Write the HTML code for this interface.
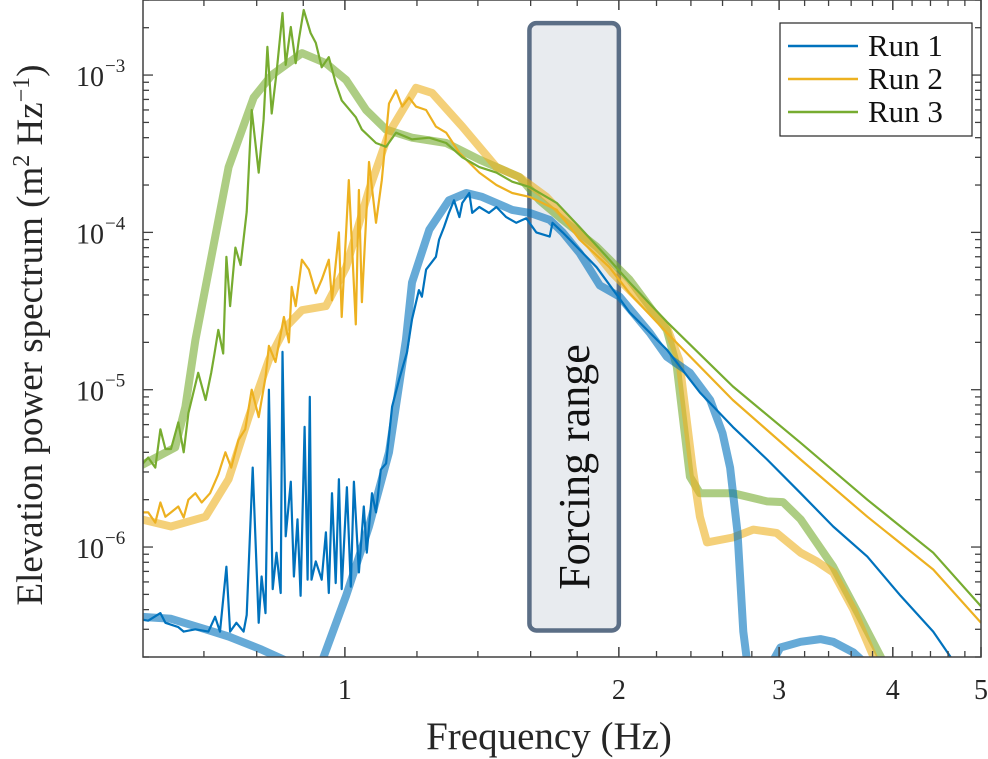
<!DOCTYPE html>
<html><head><meta charset="utf-8"><style>
html,body{margin:0;padding:0;background:#fff;}
svg{display:block;font-family:"Liberation Serif",serif;}
</style></head><body>
<svg id="chart" width="988" height="759" viewBox="0 0 988 759" xmlns="http://www.w3.org/2000/svg">
<defs><clipPath id="clip"><rect x="143" y="0" width="838" height="657"/></clipPath></defs>
<g id="plot" clip-path="url(#clip)"></g>
<g id="axes"></g>
<text x="549" y="749" text-anchor="middle" font-size="39" fill="#262626">Frequency (Hz)</text>
<text transform="translate(42,335) rotate(-90)" text-anchor="middle" font-size="37" fill="#262626">Elevation power spectrum (m<tspan baseline-shift="super" font-size="24">2</tspan> Hz<tspan baseline-shift="super" font-size="24">−1</tspan>)</text>
<g>
<rect x="780" y="23" width="192" height="113" fill="#fff" stroke="#262626" stroke-width="1.2"/>
<g><line x1="788" y1="46" x2="858" y2="46" stroke="#0072BD" stroke-width="2.5"/><text x="868" y="56" font-size="31" fill="#111">Run 1</text></g>
<g><line x1="788" y1="79" x2="858" y2="79" stroke="#EDB120" stroke-width="2.5"/><text x="868" y="89" font-size="31" fill="#111">Run 2</text></g>
<g><line x1="788" y1="112" x2="858" y2="112" stroke="#77AC30" stroke-width="2.5"/><text x="868" y="122" font-size="31" fill="#111">Run 3</text></g>
</g>
</svg>
<script>
// ---- data ----
const run3F = [0.597,0.608,0.619,0.627,0.635,0.644,0.656,0.665,0.673,0.690,0.703,0.713,0.719,0.726,0.735,0.741,0.748,0.758,0.768,0.780,0.790,0.804,0.814,0.822,0.831,0.841,0.854,0.861,0.872,0.883,0.890,0.901,0.917,0.929,0.943,0.960,0.977,0.992,1.028,1.044,1.082,1.110,1.138,1.185,1.238,1.292,1.346,1.405,1.467,1.527,1.596,1.709,1.811,1.953,2.055,2.258,2.668,3.168,3.75,4.43,5.0];
const run3P = [3.3e-6,3.7e-6,3.2e-6,5.6e-6,4.2e-6,4.2e-6,6.2e-6,4.0e-6,7.1e-6,1.28e-5,8.6e-6,1.28e-5,1.7e-5,2.4e-5,1.7e-5,7.0e-5,3.4e-5,8.0e-5,6.2e-5,1.35e-4,6.0e-4,2.4e-4,5.2e-4,1.51e-3,5.7e-4,1.03e-3,2.48e-3,1.16e-3,2.02e-3,1.19e-3,1.67e-3,2.59e-3,1.85e-3,1.6e-3,1.12e-3,1.3e-3,8.9e-4,6.9e-4,5.4e-4,4.5e-4,3.7e-4,3.5e-4,4.3e-4,3.9e-4,4.0e-4,3.7e-4,3.0e-4,2.6e-4,2.4e-4,2.1e-4,1.94e-4,1.54e-4,1.08e-4,6.7e-5,4.8e-5,2.7e-5,1.05e-5,4.6e-6,2.0e-6,9.2e-7,4.2e-7];
const run3SmoothF = [0.597,0.651,0.668,0.685,0.703,0.745,0.794,0.831,0.897,0.953,1.003,1.055,1.110,1.185,1.292,1.405,1.555,1.636,1.735,1.891,2.055,2.258,2.316,2.394,2.455,2.668,2.91,3.03,3.168,3.44,3.68,3.88,4.0];
const run3SmoothP = [3.3e-6,4.3e-6,7.8e-6,2.07e-5,4.5e-5,2.6e-4,7.2e-4,1.0e-3,1.38e-3,1.19e-3,9.3e-4,6.0e-4,4.5e-4,4.0e-4,3.7e-4,2.9e-4,2.25e-4,1.6e-4,1.2e-4,8.1e-5,5.0e-5,2.4e-5,1.4e-5,2.8e-6,2.2e-6,2.2e-6,1.95e-6,1.93e-6,1.5e-6,7.5e-7,3.6e-7,2.0e-7,1.2e-7];
const run2F = [0.597,0.608,0.619,0.627,0.635,0.644,0.656,0.665,0.673,0.685,0.696,0.711,0.726,0.739,0.750,0.764,0.777,0.790,0.804,0.818,0.825,0.839,0.857,0.868,0.874,0.883,0.897,0.913,0.929,0.943,0.960,0.968,0.985,0.992,1.010,1.028,1.036,1.044,1.063,1.082,1.098,1.118,1.138,1.156,1.176,1.197,1.228,1.259,1.292,1.336,1.405,1.467,1.527,1.596,1.709,1.811,1.953,2.055,2.258,2.668,3.168,3.75,4.43,5.0];
const run2P = [1.66e-6,1.66e-6,1.43e-6,1.92e-6,1.56e-6,1.66e-6,1.81e-6,1.54e-6,2.0e-6,2.2e-6,1.92e-6,2.2e-6,2.9e-6,4.0e-6,3.2e-6,4.8e-6,5.6e-6,1.0e-5,6.7e-6,1.2e-5,1.9e-5,1.5e-5,2.9e-5,2.0e-5,4.5e-5,3.4e-5,6.7e-5,5.8e-5,4.1e-5,5.0e-5,6.7e-5,3.7e-5,1.0e-4,2.9e-5,2.15e-4,2.6e-5,1.86e-4,3.6e-5,2.8e-4,1.15e-4,2.15e-4,6.6e-4,8.0e-4,6.3e-4,7.2e-4,6.3e-4,6.0e-4,4.7e-4,4.3e-4,3.2e-4,2.4e-4,2.0e-4,1.78e-4,1.68e-4,1.39e-4,9.0e-5,6.0e-5,4.1e-5,2.3e-5,8.6e-6,3.6e-6,1.56e-6,7.2e-7,3.3e-7];
const run2SmoothF = [0.597,0.644,0.703,0.745,0.784,0.825,0.861,0.897,0.953,1.003,1.063,1.118,1.197,1.247,1.346,1.467,1.555,1.665,1.811,1.968,2.258,2.33,2.41,2.455,2.50,2.668,2.81,2.98,3.168,3.30,3.44,3.62,3.81,3.95];
const run2SmoothP = [1.5e-6,1.35e-6,1.56e-6,2.7e-6,6.7e-6,1.55e-5,2.5e-5,3.2e-5,3.4e-5,6.0e-5,1.86e-4,4.3e-4,8.3e-4,7.7e-4,4.7e-4,2.6e-4,2.25e-4,1.68e-4,1.0e-4,5.5e-5,2.5e-5,1.55e-5,3.2e-6,1.56e-6,1.07e-6,1.15e-6,1.29e-6,1.23e-6,9.2e-7,8.1e-7,6.9e-7,4.0e-7,2.0e-7,1.2e-7];
const run1F = [0.597,0.608,0.627,0.635,0.656,0.665,0.685,0.708,0.720,0.729,0.741,0.748,0.760,0.774,0.780,0.792,0.804,0.810,0.818,0.825,0.833,0.841,0.850,0.854,0.861,0.872,0.879,0.887,0.894,0.903,0.910,0.915,0.919,0.929,0.943,0.953,0.960,0.968,0.977,0.985,0.992,1.005,1.015,1.023,1.036,1.049,1.057,1.071,1.082,1.095,1.110,1.127,1.147,1.170,1.185,1.206,1.215,1.228,1.259,1.269,1.285,1.301,1.318,1.336,1.346,1.370,1.380,1.405,1.440,1.467,1.504,1.543,1.582,1.623,1.679,1.691,1.735,1.891,2.055,2.258,2.455,2.668,2.91,3.168,3.44,3.75,4.08,4.43,4.63,4.8];
const run1P = [3.47e-7,3.4e-7,3.8e-7,3.3e-7,3.1e-7,2.9e-7,3.0e-7,2.9e-7,3.6e-7,2.9e-7,7.5e-7,2.9e-7,3.3e-7,2.9e-7,3.7e-7,3.2e-6,3.3e-7,6.5e-7,3.8e-7,1.0e-5,5.4e-7,9.2e-7,5.1e-7,1.74e-5,1.17e-6,2.6e-6,6.5e-7,1.5e-6,4.9e-7,5.8e-6,6.2e-7,9.0e-6,6.2e-7,8.1e-7,6.2e-7,1.24e-6,5.1e-7,2.2e-6,5.9e-7,2.7e-6,5.4e-7,2.4e-6,5.6e-7,2.6e-6,6.9e-7,1.81e-6,9.2e-7,2.2e-6,1.66e-6,3.1e-6,3.4e-6,7.8e-6,1.16e-5,1.72e-5,2.8e-5,4.3e-5,3.9e-5,5.8e-5,7.0e-5,9.0e-5,1.08e-4,1.33e-4,1.6e-4,1.25e-4,1.54e-4,1.78e-4,1.33e-4,1.45e-4,1.33e-4,1.45e-4,1.25e-4,1.15e-4,1.23e-4,1.0e-4,9.4e-5,1.15e-4,1.0e-4,6.0e-5,3.1e-5,1.8e-5,9.6e-6,5.8e-6,3.6e-6,2.2e-6,1.35e-6,8.7e-7,4.9e-7,2.9e-7,2.0e-7,1.5e-7];
const run1SmoothF = [0.597,0.644,0.703,0.745,0.810,0.861,0.90,0.941,1.003,1.063,1.118,1.167,1.185,1.238,1.301,1.360,1.415,1.527,1.596,1.679,1.735,1.811,1.906,2.004,2.163,2.258,2.394,2.52,2.60,2.65,2.70,2.74,2.78,2.89,3.01,3.168,3.33,3.44,3.62,3.78];
const run1SmoothP = [3.6e-7,3.5e-7,3.0e-7,2.7e-7,2.23e-7,1.9e-7,1.5e-7,1.8e-7,4.9e-7,1.35e-6,4.0e-6,2.07e-5,4.8e-5,1.04e-4,1.6e-4,1.78e-4,1.68e-4,1.39e-4,1.33e-4,1.2e-4,1.0e-4,7.4e-5,4.6e-5,3.9e-5,2.3e-5,1.62e-5,1.28e-5,8.6e-6,5.3e-6,3.2e-6,1.24e-6,2.9e-7,1.5e-7,1.5e-7,2.3e-7,2.5e-7,2.6e-7,2.5e-7,2.14e-7,1.7e-7];
const forcingRange = [1.595, 2.0];
const forcingPower = [2.14e-3, 2.95e-7];
const xTickVals = [1,2,3,4,5];
const xTickLabels = ["1","2","3","4","5"];
const yTickExps = [-6,-5,-4,-3];

// ---- axes functions ----
const X0=143, X1=981, Y0=657, Y1=0;
const xMin=Math.log10(0.6), xMax=Math.log10(5.0);
const yMin=Math.log10(2e-7), yMax=Math.log10(3e-3);
const xs = f => X0 + (Math.log10(f)-xMin)/(xMax-xMin)*(X1-X0);
const ys = p => Y0 - (Math.log10(p)-yMin)/(yMax-yMin)*(Y0-Y1);
const NS="http://www.w3.org/2000/svg";
const plot=document.getElementById('plot'), axes=document.getElementById('axes');
function mk(tag, attrs, parent){const e=document.createElementNS(NS,tag);for(const k in attrs)e.setAttribute(k,attrs[k]);parent.appendChild(e);return e;}

// forcing box
const fb = mk('rect',{x:xs(forcingRange[0]),y:ys(forcingPower[0]),width:xs(forcingRange[1])-xs(forcingRange[0]),height:ys(forcingPower[1])-ys(forcingPower[0]),rx:7,fill:'#e8ebef',stroke:'#5b6e86','stroke-width':4.5},plot);


const cx=(xs(forcingRange[0])+xs(forcingRange[1]))/2;
const ft = mk('text',{transform:`translate(${cx+15},467) rotate(-90)`,'text-anchor':'middle','font-size':44,fill:'#111'},plot);
ft.textContent='Forcing range';



function line(F,P,color,w,op,name){
  const d=F.map((f,i)=>(i?'L':'M')+xs(f).toFixed(1)+','+ys(P[i]).toFixed(1)).join('');
  const p=mk('path',{d:d,fill:'none',stroke:color,'stroke-width':w,'stroke-opacity':op,'stroke-linejoin':'round','stroke-linecap':'butt'},plot);
  
  
}
line(run3SmoothF,run3SmoothP,'#77AC30',8,0.6,'run-3-smooth-line');
line(run2SmoothF,run2SmoothP,'#EDB120',8,0.6,'run-2-smooth-line');
line(run1SmoothF,run1SmoothP,'#0072BD',8,0.6,'run-1-smooth-line');
line(run1F,run1P,'#0072BD',2.2,1,'run-1-line');
line(run2F,run2P,'#EDB120',2.2,1,'run-2-line');
line(run3F,run3P,'#77AC30',2.2,1,'run-3-line');

// axes frame
const fr=mk('rect',{x:X0,y:Y1,width:X1-X0,height:Y0-Y1,fill:'none',stroke:'#404040','stroke-width':1.5},axes);


// x ticks
const minorX=[];
for(let v=0.7;v<0.95;v+=0.1)minorX.push(v);
for(let v=1.2;v<4.95;v+=0.2){if(Math.abs(v-Math.round(v))>0.05)minorX.push(v);}
minorX.forEach(v=>{const x=xs(v);mk('line',{x1:x,y1:Y0,x2:x,y2:Y0-6,stroke:'#404040','stroke-width':1.3},axes);mk('line',{x1:x,y1:Y1,x2:x,y2:Y1+6,stroke:'#404040','stroke-width':1.3},axes);});
xTickVals.forEach((v,i)=>{const x=xs(v);mk('line',{x1:x,y1:Y0,x2:x,y2:Y0-10,stroke:'#404040','stroke-width':1.5},axes);mk('line',{x1:x,y1:Y1,x2:x,y2:Y1+10,stroke:'#404040','stroke-width':1.5},axes);
  const t=mk('text',{x:x,y:699,'text-anchor':'middle','font-size':28,fill:'#262626'},axes);t.textContent=xTickLabels[i];
  
  });
// y ticks
for(let e=-7;e<=-3;e++){for(let m=1;m<10;m++){const p=m*Math.pow(10,e);if(p<2e-7||p>3e-3)continue;const y=ys(p);const L=m===1?10:6;
  mk('line',{x1:X0,y1:y,x2:X0+L,y2:y,stroke:'#404040','stroke-width':1.3},axes);mk('line',{x1:X1,y1:y,x2:X1-L,y2:y,stroke:'#404040','stroke-width':1.3},axes);}}
yTickExps.forEach(e=>{const y=ys(Math.pow(10,e));
  const t=mk('text',{x:104,y:y+11,'text-anchor':'end','font-size':28,fill:'#262626'},axes);t.textContent='10';
  
  
  const s=mk('text',{x:105,y:y-3,'font-size':19,fill:'#262626'},axes);s.textContent='−'+Math.abs(e);
  
  });
</script>
</body></html>
